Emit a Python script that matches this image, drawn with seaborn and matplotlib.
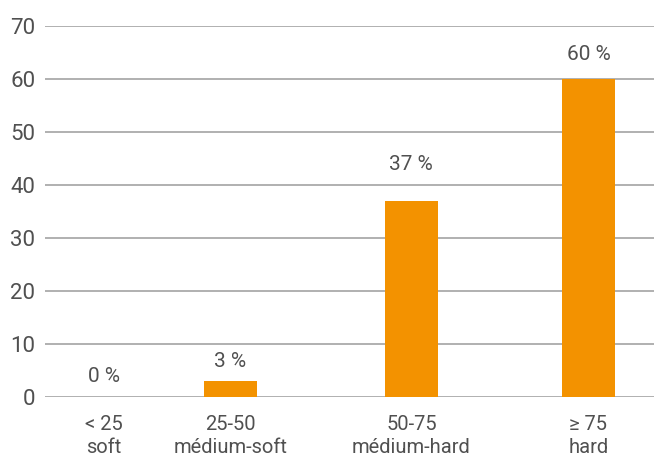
import matplotlib
matplotlib.use("Agg")
import matplotlib.pyplot as plt
import seaborn as sns
import pandas as pd

# data
categories = ["< 25\nsoft", "25-50\nmédium-soft", "50-75\nmédium-hard", "≥ 75\nhard"]
values = [0, 3, 37, 60]
value_labels = ["0 %", "3 %", "37 %", "60 %"]
y_ticks = [0, 10, 20, 30, 40, 50, 60, 70]

# layout (bar positions along the x axis, label offsets in points)
x_pos = [0, 1, 2.43, 3.83]
label_pad = [8, 7, 19.5, 10.5]

sns.set_theme(style="white")
plt.rcParams["font.family"] = ["Roboto", "DejaVu Sans"]

text_color = "#505050"
grid_color = "#a3a3a3"
bar_color = "#F39200"
weight = "normal"

fig = plt.figure(figsize=(6.54, 4.57), dpi=100)
ax = fig.add_axes([0.0688, 0.132, 0.9312, 0.811])

df = pd.DataFrame({"x": x_pos, "value": values})
sns.barplot(data=df, x="x", y="value", native_scale=True, color=bar_color,
            saturation=1, width=0.42, linewidth=0, ax=ax, zorder=3)

ax.set_xlim(-0.466, 4.348)
ax.set_ylim(0, 70)
ax.set_yticks(y_ticks)
ax.set_yticklabels([str(t) for t in y_ticks], fontsize=16, color=text_color,
                   fontweight=weight)
ax.set_xticks(x_pos)
ax.set_xticklabels(categories, fontsize=14.5, color=text_color,
                   fontweight=weight, linespacing=1.3)
ax.tick_params(axis="x", length=0, pad=13)
ax.tick_params(axis="y", length=0, pad=7)

ax.yaxis.grid(True, color=grid_color, linewidth=1.2)
ax.xaxis.grid(False)
ax.set_axisbelow(True)
for s in ax.spines.values():
    s.set_visible(False)

ax.set_xlabel("")
ax.set_ylabel("")

for patch, lab, pad in zip(ax.patches, value_labels, label_pad):
    ax.annotate(lab, (patch.get_x() + patch.get_width() / 2, patch.get_height()),
                xytext=(0, pad), textcoords="offset points", ha="center",
                va="bottom", fontsize=15, color=text_color, fontweight=weight)

fig.savefig("out.png", dpi=100)
